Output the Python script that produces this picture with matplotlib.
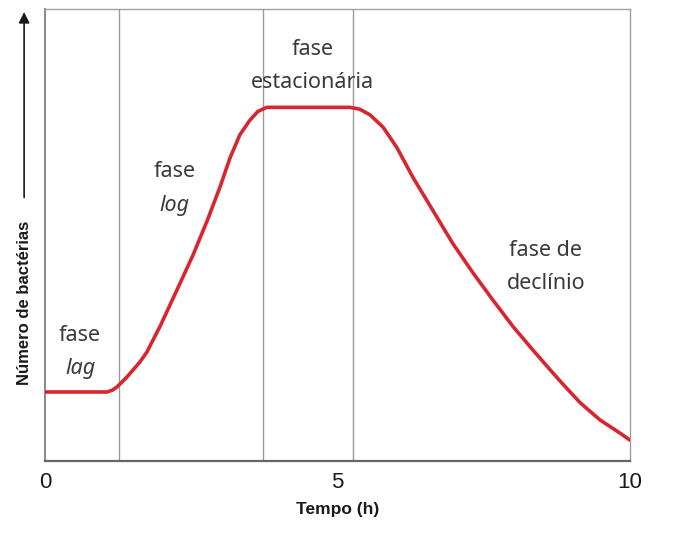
import matplotlib
matplotlib.use("Agg")
import matplotlib.pyplot as plt
from matplotlib.patches import FancyArrowPatch

# curve (time in h, relative number of bacteria)
tempo = [0.00, 1.06, 1.15, 1.23, 1.40, 1.62, 1.74, 1.97, 2.31, 2.53, 2.77,
         2.99, 3.16, 3.33, 3.50, 3.64, 3.79, 5.21, 5.38, 5.56, 5.78, 6.02,
         6.29, 6.63, 6.97, 7.32, 7.66, 8.00, 8.34, 8.63, 8.80, 9.15, 9.49,
         9.83, 10.0]
bacterias = [15.3, 15.3, 15.7, 16.4, 18.6, 21.9, 24.1, 29.9, 39.4, 45.6, 53.1,
             60.6, 67.0, 72.2, 75.4, 77.4, 78.3, 78.3, 77.9, 76.6, 73.9, 69.3,
             62.8, 55.5, 48.2, 41.6, 35.6, 29.8, 24.6, 20.3, 17.8, 12.9, 9.1,
             6.2, 4.65]
limites_fases = [1.27, 3.73, 5.26]
ticks_x = [0, 5, 10]

cond = ["Liberation Sans", "DejaVu Sans"]
texto = ["Noto Sans", "DejaVu Sans"]
cor_texto = "#3a3a3a"

fig = plt.figure(figsize=(6.89, 5.47), dpi=100)
ax = fig.add_axes([0.0653, 0.157, 0.849, 0.826])

for xv in limites_fases:
    ax.axvline(xv, color="#9a9a9a", lw=1.0, zorder=1)

ax.plot(tempo, bacterias, color="#d7262f", lw=2.6, solid_capstyle="round",
        solid_joinstyle="round", zorder=3)

ax.set_xlim(0, 10)
ax.set_ylim(0, 100)
ax.set_xticks(ticks_x)
ax.set_xticklabels([str(t) for t in ticks_x], family=cond, fontsize=16,
                   color="#1a1a1a")
ax.set_yticks([])
ax.tick_params(axis="x", length=0, pad=8)

for s in ["top", "right"]:
    ax.spines[s].set_color("#a0a0a0")
    ax.spines[s].set_linewidth(1.0)
ax.spines["left"].set_color("#888888")
ax.spines["left"].set_linewidth(1.4)
ax.spines["bottom"].set_color("#666666")
ax.spines["bottom"].set_linewidth(1.6)

ax.set_xlabel("Tempo (h)", family=cond, fontsize=12.5, fontweight="bold",
              color="#1a1a1a", labelpad=6)

fs = 15.5
ax.text(0.6, 27.9, "fase", ha="center", va="center", fontsize=fs,
        family=texto, color=cor_texto)
ax.text(0.6, 20.6, "lag", ha="center", va="center", fontsize=fs,
        family=texto, style="italic", color=cor_texto)
ax.text(2.22, 64.0, "fase", ha="center", va="center", fontsize=fs,
        family=texto, color=cor_texto)
ax.text(2.22, 56.6, "log", ha="center", va="center", fontsize=fs,
        family=texto, style="italic", color=cor_texto)
ax.text(4.58, 91.0, "fase", ha="center", va="center", fontsize=fs,
        family=texto, color=cor_texto)
ax.text(4.58, 83.8, "estacionária", ha="center", va="center", fontsize=fs,
        family=texto, color=cor_texto)
ax.text(8.56, 46.7, "fase de", ha="center", va="center", fontsize=fs,
        family=texto, color=cor_texto)
ax.text(8.56, 39.4, "declínio", ha="center", va="center", fontsize=fs,
        family=texto, color=cor_texto)

# y axis label with arrow
fig.text(0.036, 0.446, "Número de bactérias", rotation=90, ha="center",
         va="center", family=cond, fontsize=12, fontweight="bold",
         color="#1a1a1a")
fig.patches.append(FancyArrowPatch(
    (0.035, 0.634), (0.035, 0.983), transform=fig.transFigure,
    arrowstyle="-|>", mutation_scale=16, color="#1a1a1a", lw=1.2))

fig.savefig("out.png", dpi=100)
